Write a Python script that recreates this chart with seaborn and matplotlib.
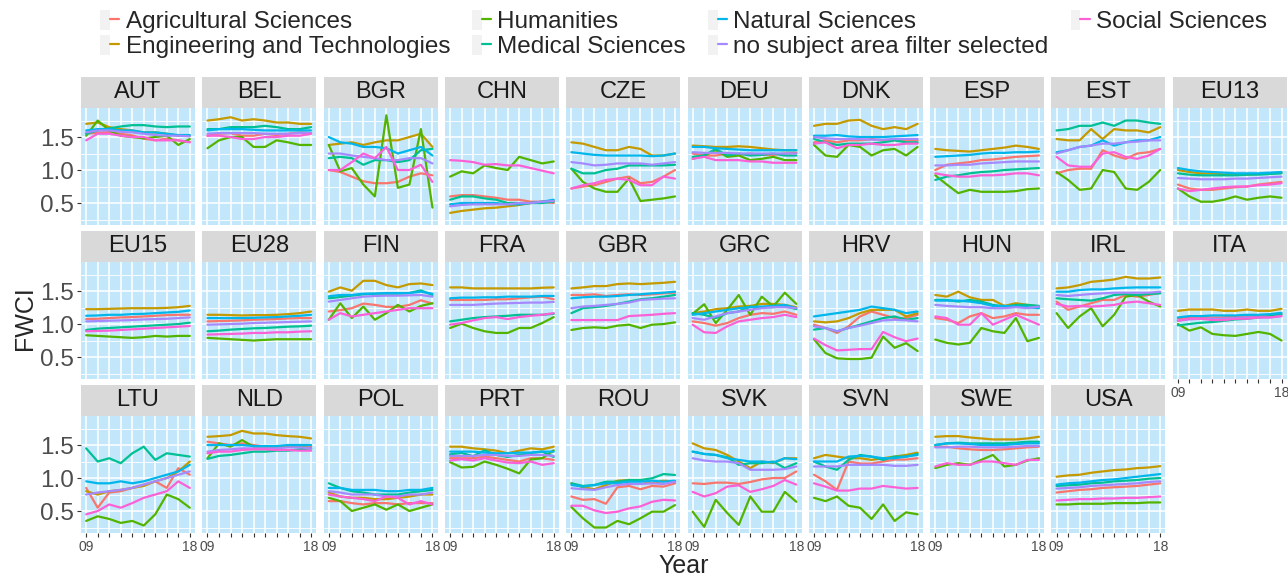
import pandas as pd
import matplotlib
matplotlib.use("Agg")
import matplotlib.pyplot as plt
from matplotlib.lines import Line2D
from matplotlib.patches import Rectangle, Patch
from matplotlib.legend_handler import HandlerTuple
import seaborn as sns

# FWCI by subject area, 2009-2018
years = list(range(2009, 2019))
subjects = ["Agricultural Sciences", "Engineering and Technologies", "Humanities",
            "Medical Sciences", "Natural Sciences", "no subject area filter selected",
            "Social Sciences"]
colors = ["#F8766D", "#C49A00", "#53B400", "#00C094", "#00B6EB", "#A58AFF", "#FB61D7"]
countries = ["AUT", "BEL", "BGR", "CHN", "CZE", "DEU", "DNK", "ESP", "EST", "EU13",
             "EU15", "EU28", "FIN", "FRA", "GBR", "GRC", "HRV", "HUN", "IRL", "ITA",
             "LTU", "NLD", "POL", "PRT", "ROU", "SVK", "SVN", "SWE", "USA"]

# each row: one subject (same order as `subjects`), values for 2009..2018
AUT = [[1.55, 1.565, 1.575, 1.55, 1.525, 1.475, 1.45, 1.475, 1.45, 1.425],
       [1.70, 1.72, 1.65, 1.62, 1.60, 1.57, 1.57, 1.55, 1.52, 1.52],
       [1.52, 1.75, 1.60, 1.52, 1.50, 1.48, 1.50, 1.52, 1.38, 1.47],
       [1.55, 1.60, 1.63, 1.66, 1.68, 1.68, 1.66, 1.65, 1.66, 1.66],
       [1.60, 1.62, 1.62, 1.60, 1.60, 1.57, 1.57, 1.55, 1.53, 1.53],
       [1.57, 1.60, 1.60, 1.58, 1.57, 1.55, 1.53, 1.52, 1.52, 1.51],
       [1.45, 1.55, 1.55, 1.52, 1.50, 1.50, 1.45, 1.45, 1.45, 1.42]]
BEL = [[1.52, 1.55, 1.56, 1.52, 1.52, 1.55, 1.53, 1.55, 1.57, 1.56],
       [1.75, 1.77, 1.80, 1.75, 1.77, 1.75, 1.72, 1.72, 1.70, 1.70],
       [1.33, 1.45, 1.50, 1.50, 1.35, 1.35, 1.45, 1.42, 1.38, 1.38],
       [1.62, 1.62, 1.65, 1.65, 1.65, 1.67, 1.65, 1.62, 1.62, 1.65],
       [1.60, 1.62, 1.62, 1.62, 1.61, 1.60, 1.60, 1.60, 1.60, 1.60],
       [1.55, 1.56, 1.56, 1.56, 1.56, 1.55, 1.55, 1.55, 1.56, 1.56],
       [1.52, 1.52, 1.50, 1.47, 1.47, 1.50, 1.50, 1.52, 1.52, 1.55]]
BGR = [[1.00, 0.97, 0.90, 0.83, 0.80, 0.80, 0.82, 0.90, 0.95, 0.92],
       [1.38, 1.40, 1.42, 1.38, 1.42, 1.45, 1.45, 1.50, 1.55, 1.35],
       [1.38, 0.98, 1.03, 0.78, 0.60, 1.83, 0.73, 0.78, 1.62, 0.43],
       [1.18, 1.20, 1.18, 1.08, 1.15, 1.15, 1.12, 1.15, 1.30, 1.32],
       [1.50, 1.42, 1.40, 1.35, 1.35, 1.33, 1.25, 1.30, 1.35, 1.22],
       [1.25, 1.25, 1.22, 1.20, 1.18, 1.15, 1.15, 1.18, 1.18, 1.10],
       [1.00, 1.00, 1.12, 1.25, 1.18, 1.35, 1.00, 1.00, 1.08, 0.82]]
CHN = [[0.60, 0.62, 0.62, 0.60, 0.58, 0.55, 0.55, 0.52, 0.52, 0.50],
       [0.35, 0.38, 0.40, 0.42, 0.43, 0.45, 0.47, 0.50, 0.52, 0.53],
       [0.90, 0.98, 0.95, 1.07, 1.03, 1.00, 1.20, 1.15, 1.10, 1.13],
       [0.55, 0.60, 0.60, 0.57, 0.55, 0.50, 0.50, 0.50, 0.50, 0.52],
       [0.48, 0.50, 0.50, 0.50, 0.50, 0.48, 0.48, 0.50, 0.52, 0.55],
       [0.45, 0.47, 0.48, 0.48, 0.48, 0.48, 0.50, 0.50, 0.52, 0.53],
       [1.15, 1.14, 1.12, 1.08, 1.09, 1.07, 1.07, 1.03, 0.99, 0.95]]
CZE = [[0.72, 0.75, 0.77, 0.82, 0.87, 0.90, 0.80, 0.82, 0.90, 1.00],
       [1.42, 1.40, 1.35, 1.30, 1.30, 1.35, 1.32, 1.22, 1.22, 1.25],
       [1.02, 0.82, 0.72, 0.67, 0.67, 0.87, 0.53, 0.55, 0.57, 0.60],
       [1.02, 0.95, 0.95, 1.00, 1.02, 1.07, 1.07, 1.07, 1.07, 1.08],
       [1.27, 1.25, 1.23, 1.22, 1.22, 1.22, 1.22, 1.21, 1.22, 1.25],
       [1.12, 1.10, 1.07, 1.08, 1.10, 1.10, 1.10, 1.08, 1.10, 1.12],
       [0.72, 0.77, 0.80, 0.85, 0.87, 0.85, 0.77, 0.77, 0.90, 0.87]]
DEU = [[1.25, 1.22, 1.22, 1.25, 1.23, 1.25, 1.23, 1.23, 1.25, 1.26],
       [1.37, 1.36, 1.35, 1.35, 1.36, 1.35, 1.33, 1.31, 1.30, 1.30],
       [1.17, 1.22, 1.30, 1.20, 1.22, 1.15, 1.17, 1.20, 1.15, 1.15],
       [1.20, 1.22, 1.32, 1.22, 1.25, 1.22, 1.23, 1.25, 1.22, 1.22],
       [1.35, 1.35, 1.33, 1.32, 1.31, 1.30, 1.30, 1.30, 1.30, 1.30],
       [1.27, 1.26, 1.26, 1.26, 1.25, 1.25, 1.25, 1.25, 1.25, 1.25],
       [1.17, 1.20, 1.15, 1.15, 1.15, 1.13, 1.13, 1.11, 1.11, 1.11]]
DNK = [[1.42, 1.45, 1.42, 1.45, 1.45, 1.47, 1.45, 1.45, 1.45, 1.45],
       [1.67, 1.70, 1.70, 1.75, 1.76, 1.67, 1.62, 1.65, 1.62, 1.70],
       [1.38, 1.22, 1.20, 1.38, 1.35, 1.22, 1.30, 1.32, 1.22, 1.35],
       [1.47, 1.42, 1.38, 1.40, 1.40, 1.40, 1.42, 1.45, 1.42, 1.42],
       [1.52, 1.52, 1.53, 1.51, 1.50, 1.50, 1.50, 1.51, 1.52, 1.53],
       [1.50, 1.48, 1.47, 1.47, 1.47, 1.46, 1.46, 1.47, 1.47, 1.47],
       [1.40, 1.42, 1.33, 1.38, 1.38, 1.40, 1.38, 1.38, 1.40, 1.40]]
ESP = [[1.00, 1.08, 1.10, 1.12, 1.15, 1.16, 1.18, 1.20, 1.21, 1.22],
       [1.32, 1.30, 1.29, 1.28, 1.30, 1.32, 1.34, 1.37, 1.35, 1.32],
       [0.92, 0.78, 0.65, 0.70, 0.67, 0.67, 0.67, 0.68, 0.71, 0.72],
       [0.85, 0.90, 0.92, 0.95, 0.97, 0.98, 1.00, 1.01, 1.02, 1.03],
       [1.20, 1.21, 1.22, 1.23, 1.25, 1.26, 1.26, 1.27, 1.27, 1.28],
       [1.07, 1.07, 1.08, 1.08, 1.10, 1.11, 1.12, 1.13, 1.13, 1.13],
       [0.95, 0.92, 0.90, 0.90, 0.92, 0.92, 0.93, 0.95, 0.95, 0.92]]
EST = [[0.95, 1.00, 1.02, 1.02, 1.30, 1.22, 1.17, 1.25, 1.27, 1.32],
       [1.47, 1.45, 1.45, 1.62, 1.47, 1.62, 1.60, 1.60, 1.57, 1.65],
       [0.97, 0.85, 0.70, 0.72, 1.00, 0.97, 0.72, 0.70, 0.82, 1.00],
       [1.60, 1.62, 1.67, 1.67, 1.72, 1.67, 1.75, 1.75, 1.72, 1.70],
       [1.27, 1.30, 1.35, 1.37, 1.45, 1.37, 1.42, 1.45, 1.45, 1.50],
       [1.25, 1.30, 1.35, 1.37, 1.40, 1.40, 1.42, 1.43, 1.45, 1.45],
       [1.20, 1.07, 1.05, 1.05, 1.25, 1.27, 1.20, 1.17, 1.22, 1.32]]
EU13 = [[0.78, 0.72, 0.70, 0.70, 0.72, 0.74, 0.75, 0.78, 0.80, 0.82],
        [1.00, 0.97, 0.95, 0.95, 0.93, 0.93, 0.93, 0.94, 0.95, 0.96],
        [0.72, 0.60, 0.52, 0.52, 0.55, 0.60, 0.55, 0.58, 0.60, 0.58],
        [0.95, 0.93, 0.92, 0.92, 0.92, 0.92, 0.93, 0.93, 0.94, 0.95],
        [1.03, 1.00, 0.98, 0.97, 0.96, 0.95, 0.95, 0.95, 0.96, 0.97],
        [0.88, 0.87, 0.86, 0.86, 0.86, 0.87, 0.87, 0.88, 0.89, 0.90],
        [0.72, 0.68, 0.70, 0.72, 0.74, 0.75, 0.75, 0.77, 0.78, 0.80]]
EU15 = [[1.075, 1.08, 1.09, 1.10, 1.105, 1.115, 1.125, 1.135, 1.14, 1.14],
        [1.225, 1.225, 1.23, 1.235, 1.24, 1.24, 1.24, 1.245, 1.255, 1.275],
        [0.83, 0.82, 0.81, 0.80, 0.79, 0.80, 0.82, 0.81, 0.82, 0.82],
        [0.91, 0.93, 0.94, 0.95, 0.96, 0.97, 0.98, 0.99, 1.00, 1.02],
        [1.125, 1.13, 1.14, 1.14, 1.15, 1.155, 1.165, 1.175, 1.185, 1.205],
        [1.04, 1.045, 1.05, 1.055, 1.06, 1.07, 1.075, 1.08, 1.09, 1.10],
        [0.89, 0.895, 0.90, 0.91, 0.92, 0.93, 0.94, 0.95, 0.96, 0.97]]
EU28 = [[1.04, 1.045, 1.05, 1.055, 1.065, 1.07, 1.075, 1.085, 1.09, 1.09],
        [1.14, 1.14, 1.135, 1.13, 1.135, 1.135, 1.14, 1.15, 1.165, 1.19],
        [0.79, 0.78, 0.77, 0.76, 0.75, 0.76, 0.77, 0.77, 0.77, 0.77],
        [0.89, 0.90, 0.915, 0.925, 0.935, 0.94, 0.95, 0.96, 0.965, 0.975],
        [1.09, 1.09, 1.09, 1.09, 1.095, 1.10, 1.105, 1.115, 1.125, 1.14],
        [0.99, 0.995, 1.00, 1.005, 1.015, 1.02, 1.025, 1.03, 1.035, 1.04],
        [0.84, 0.845, 0.85, 0.855, 0.865, 0.865, 0.875, 0.875, 0.885, 0.89]]
FIN = [[1.19, 1.21, 1.24, 1.31, 1.29, 1.26, 1.26, 1.29, 1.36, 1.31],
       [1.49, 1.555, 1.505, 1.655, 1.655, 1.59, 1.555, 1.605, 1.615, 1.59],
       [1.065, 1.315, 1.09, 1.265, 1.065, 1.165, 1.29, 1.19, 1.275, 1.315],
       [1.39, 1.41, 1.43, 1.45, 1.46, 1.46, 1.46, 1.47, 1.51, 1.44],
       [1.42, 1.44, 1.44, 1.46, 1.46, 1.47, 1.47, 1.47, 1.49, 1.46],
       [1.34, 1.365, 1.39, 1.415, 1.425, 1.43, 1.43, 1.435, 1.44, 1.415],
       [1.065, 1.165, 1.115, 1.14, 1.165, 1.19, 1.215, 1.24, 1.24, 1.24]]
FRA = [[1.365, 1.365, 1.365, 1.365, 1.375, 1.375, 1.39, 1.405, 1.415, 1.375],
       [1.555, 1.555, 1.54, 1.54, 1.54, 1.54, 1.54, 1.54, 1.55, 1.555],
       [0.94, 1.005, 0.94, 0.89, 0.865, 0.865, 0.94, 0.94, 1.015, 1.105],
       [1.04, 1.065, 1.09, 1.105, 1.115, 1.125, 1.14, 1.14, 1.14, 1.155],
       [1.39, 1.40, 1.40, 1.405, 1.405, 1.415, 1.415, 1.415, 1.425, 1.425],
       [1.29, 1.29, 1.29, 1.30, 1.31, 1.315, 1.32, 1.325, 1.325, 1.335],
       [0.99, 1.015, 1.055, 1.09, 1.105, 1.075, 1.105, 1.125, 1.14, 1.165]]
GBR = [[1.44, 1.44, 1.45, 1.425, 1.44, 1.45, 1.44, 1.45, 1.465, 1.475],
       [1.54, 1.555, 1.575, 1.575, 1.605, 1.615, 1.605, 1.615, 1.625, 1.64],
       [0.91, 0.94, 0.95, 0.94, 0.975, 0.99, 0.94, 0.99, 1.00, 1.025],
       [1.165, 1.24, 1.255, 1.275, 1.305, 1.34, 1.375, 1.39, 1.415, 1.44],
       [1.39, 1.405, 1.415, 1.415, 1.425, 1.44, 1.45, 1.465, 1.475, 1.49],
       [1.24, 1.265, 1.275, 1.29, 1.305, 1.325, 1.365, 1.375, 1.385, 1.39],
       [1.06, 1.06, 1.06, 1.06, 1.06, 1.12, 1.13, 1.14, 1.155, 1.165]]
GRC = [[1.04, 1.015, 0.975, 1.015, 1.09, 1.14, 1.165, 1.155, 1.19, 1.14],
       [1.165, 1.19, 1.225, 1.24, 1.265, 1.275, 1.305, 1.305, 1.29, 1.255],
       [1.155, 1.30, 1.015, 1.215, 1.44, 1.14, 1.415, 1.265, 1.475, 1.305],
       [1.165, 1.14, 1.09, 1.165, 1.19, 1.265, 1.255, 1.255, 1.275, 1.225],
       [1.14, 1.165, 1.19, 1.215, 1.24, 1.255, 1.265, 1.275, 1.29, 1.24],
       [1.09, 1.065, 1.115, 1.165, 1.19, 1.215, 1.24, 1.255, 1.255, 1.24],
       [0.99, 0.875, 0.865, 0.965, 1.04, 1.065, 1.09, 1.105, 1.14, 1.105]]
HRV = [[0.99, 0.94, 0.865, 0.965, 1.115, 1.19, 1.14, 1.09, 1.09, 1.14],
       [1.04, 1.025, 1.04, 1.09, 1.165, 1.215, 1.215, 1.215, 1.115, 1.165],
       [0.77, 0.56, 0.48, 0.47, 0.47, 0.49, 0.81, 0.64, 0.71, 0.59],
       [0.915, 0.94, 0.89, 0.94, 0.99, 1.04, 1.09, 1.115, 1.065, 1.09],
       [1.115, 1.14, 1.165, 1.19, 1.215, 1.265, 1.24, 1.215, 1.165, 1.19],
       [0.965, 0.94, 0.89, 0.94, 0.975, 1.015, 1.055, 1.065, 1.055, 1.04],
       [0.78, 0.68, 0.60, 0.61, 0.62, 0.62, 0.88, 0.80, 0.74, 0.78]]
HUN = [[1.09, 1.065, 1.015, 1.115, 1.165, 1.09, 1.115, 1.165, 1.14, 1.14],
       [1.44, 1.415, 1.49, 1.405, 1.365, 1.365, 1.275, 1.315, 1.29, 1.265],
       [0.765, 0.715, 0.69, 0.715, 0.94, 0.89, 0.865, 1.09, 0.74, 0.79],
       [1.365, 1.365, 1.34, 1.365, 1.34, 1.29, 1.265, 1.29, 1.29, 1.275],
       [1.355, 1.355, 1.355, 1.34, 1.315, 1.275, 1.275, 1.265, 1.255, 1.24],
       [1.29, 1.275, 1.265, 1.255, 1.255, 1.24, 1.24, 1.255, 1.24, 1.265],
       [1.115, 1.09, 0.99, 0.99, 1.165, 0.99, 1.065, 1.14, 1.065, 0.99]]
IRL = [[1.34, 1.215, 1.265, 1.315, 1.365, 1.365, 1.44, 1.415, 1.44, 1.475],
       [1.54, 1.555, 1.59, 1.64, 1.655, 1.675, 1.715, 1.69, 1.69, 1.705],
       [1.165, 0.94, 1.115, 1.24, 0.965, 1.14, 1.415, 1.44, 1.34, 1.265],
       [1.39, 1.375, 1.365, 1.355, 1.39, 1.44, 1.455, 1.44, 1.455, 1.465],
       [1.49, 1.49, 1.515, 1.525, 1.525, 1.54, 1.55, 1.555, 1.555, 1.555],
       [1.44, 1.425, 1.44, 1.455, 1.465, 1.475, 1.475, 1.475, 1.475, 1.49],
       [1.305, 1.265, 1.275, 1.265, 1.275, 1.29, 1.325, 1.34, 1.315, 1.29]]
ITA = [[1.08, 1.10, 1.10, 1.10, 1.10, 1.12, 1.12, 1.12, 1.12, 1.15],
       [1.20, 1.22, 1.22, 1.22, 1.20, 1.20, 1.22, 1.20, 1.20, 1.23],
       [1.00, 0.90, 0.95, 0.85, 0.83, 0.82, 0.85, 0.88, 0.85, 0.75],
       [0.98, 1.00, 1.02, 1.03, 1.05, 1.07, 1.08, 1.10, 1.12, 1.15],
       [1.10, 1.12, 1.12, 1.13, 1.13, 1.13, 1.14, 1.14, 1.15, 1.17],
       [1.05, 1.07, 1.08, 1.08, 1.08, 1.09, 1.10, 1.10, 1.10, 1.12],
       [1.05, 1.08, 1.08, 1.06, 1.06, 1.08, 1.08, 1.10, 1.10, 1.12]]
LTU = [[0.85, 0.55, 0.78, 0.80, 0.85, 0.90, 0.95, 0.85, 1.15, 1.05],
       [0.80, 0.75, 0.80, 0.82, 0.85, 0.88, 0.95, 1.00, 1.10, 1.25],
       [0.35, 0.42, 0.38, 0.32, 0.35, 0.28, 0.45, 0.75, 0.68, 0.55],
       [1.45, 1.25, 1.30, 1.225, 1.375, 1.475, 1.275, 1.375, 1.35, 1.325],
       [0.95, 0.92, 0.92, 0.95, 0.92, 0.95, 1.00, 1.05, 1.10, 1.20],
       [0.75, 0.78, 0.80, 0.82, 0.85, 0.90, 0.95, 1.00, 1.05, 1.10],
       [0.45, 0.50, 0.60, 0.55, 0.62, 0.70, 0.75, 0.80, 0.95, 0.85]]
NLD = [[1.55, 1.525, 1.50, 1.525, 1.50, 1.475, 1.475, 1.485, 1.50, 1.485],
       [1.625, 1.635, 1.65, 1.715, 1.675, 1.675, 1.65, 1.635, 1.625, 1.60],
       [1.30, 1.525, 1.475, 1.575, 1.475, 1.45, 1.475, 1.475, 1.475, 1.45],
       [1.29, 1.335, 1.35, 1.375, 1.40, 1.40, 1.415, 1.415, 1.435, 1.45],
       [1.50, 1.50, 1.50, 1.50, 1.485, 1.485, 1.485, 1.50, 1.50, 1.50],
       [1.40, 1.425, 1.435, 1.45, 1.45, 1.45, 1.45, 1.465, 1.465, 1.45],
       [1.375, 1.40, 1.40, 1.425, 1.435, 1.435, 1.425, 1.425, 1.415, 1.415]]
POL = [[0.65, 0.65, 0.62, 0.60, 0.62, 0.62, 0.60, 0.62, 0.62, 0.62],
       [0.78, 0.72, 0.70, 0.70, 0.68, 0.68, 0.70, 0.72, 0.75, 0.75],
       [0.70, 0.65, 0.50, 0.55, 0.60, 0.52, 0.60, 0.50, 0.55, 0.60],
       [0.92, 0.85, 0.80, 0.78, 0.75, 0.75, 0.75, 0.78, 0.80, 0.82],
       [0.85, 0.85, 0.82, 0.82, 0.82, 0.80, 0.80, 0.82, 0.82, 0.85],
       [0.80, 0.78, 0.75, 0.75, 0.75, 0.72, 0.72, 0.75, 0.75, 0.78],
       [0.75, 0.72, 0.70, 0.68, 0.65, 0.72, 0.70, 0.60, 0.65, 0.60]]
PRT = [[1.30, 1.30, 1.30, 1.325, 1.30, 1.275, 1.25, 1.30, 1.30, 1.275],
       [1.475, 1.475, 1.45, 1.435, 1.415, 1.375, 1.415, 1.45, 1.435, 1.475],
       [1.24, 1.16, 1.17, 1.25, 1.20, 1.14, 1.07, 1.28, 1.30, 1.42],
       [1.36, 1.38, 1.33, 1.42, 1.35, 1.32, 1.35, 1.38, 1.40, 1.32],
       [1.40, 1.40, 1.40, 1.385, 1.375, 1.375, 1.385, 1.385, 1.40, 1.40],
       [1.335, 1.335, 1.335, 1.35, 1.35, 1.335, 1.335, 1.35, 1.35, 1.335],
       [1.265, 1.285, 1.265, 1.30, 1.265, 1.235, 1.225, 1.25, 1.20, 1.225]]
ROU = [[0.72, 0.67, 0.68, 0.61, 0.86, 0.88, 0.83, 0.88, 0.87, 0.92],
       [0.92, 0.86, 0.83, 0.894, 0.96, 0.97, 0.96, 0.92, 0.96, 0.944],
       [0.56, 0.39, 0.25, 0.25, 0.35, 0.30, 0.39, 0.49, 0.49, 0.59],
       [0.92, 0.88, 0.894, 0.944, 0.944, 0.97, 0.97, 0.996, 1.06, 1.046],
       [0.894, 0.87, 0.894, 0.92, 0.92, 0.944, 0.944, 0.96, 0.944, 0.96],
       [0.845, 0.83, 0.82, 0.86, 0.894, 0.91, 0.91, 0.92, 0.91, 0.944],
       [0.58, 0.58, 0.51, 0.47, 0.49, 0.54, 0.57, 0.64, 0.67, 0.66]]
SVK = [[0.92, 0.91, 0.93, 0.93, 0.91, 0.94, 0.98, 1.00, 1.00, 1.10],
       [1.525, 1.45, 1.425, 1.35, 1.25, 1.15, 1.25, 1.225, 1.30, 1.30],
       [0.49, 0.26, 0.67, 0.47, 0.29, 0.72, 0.49, 0.49, 0.79, 0.64],
       [1.40, 1.365, 1.35, 1.315, 1.20, 1.225, 1.225, 1.25, 1.15, 1.225],
       [1.40, 1.365, 1.35, 1.30, 1.275, 1.25, 1.25, 1.235, 1.30, 1.285],
       [1.30, 1.265, 1.25, 1.25, 1.225, 1.125, 1.125, 1.125, 1.135, 1.175],
       [0.79, 0.72, 0.77, 0.87, 0.89, 0.79, 0.83, 0.88, 0.97, 0.90]]
SVN = [[1.05, 0.95, 0.82, 1.25, 1.22, 1.22, 1.25, 1.28, 1.28, 1.30],
       [1.30, 1.35, 1.325, 1.30, 1.30, 1.275, 1.30, 1.325, 1.35, 1.385],
       [0.70, 0.65, 0.72, 0.58, 0.55, 0.38, 0.60, 0.35, 0.48, 0.45],
       [1.25, 1.175, 1.125, 1.275, 1.35, 1.325, 1.275, 1.325, 1.325, 1.365],
       [1.25, 1.25, 1.25, 1.325, 1.335, 1.325, 1.30, 1.30, 1.325, 1.35],
       [1.175, 1.175, 1.175, 1.20, 1.20, 1.20, 1.20, 1.185, 1.185, 1.20],
       [0.92, 0.87, 0.81, 0.81, 0.84, 0.84, 0.88, 0.86, 0.84, 0.85]]
SWE = [[1.475, 1.475, 1.45, 1.435, 1.425, 1.425, 1.435, 1.45, 1.465, 1.475],
       [1.625, 1.635, 1.635, 1.615, 1.60, 1.585, 1.585, 1.585, 1.60, 1.625],
       [1.15, 1.20, 1.225, 1.20, 1.275, 1.35, 1.175, 1.20, 1.265, 1.30],
       [1.50, 1.525, 1.535, 1.525, 1.525, 1.525, 1.525, 1.535, 1.55, 1.55],
       [1.50, 1.525, 1.525, 1.515, 1.50, 1.50, 1.50, 1.515, 1.525, 1.525],
       [1.465, 1.465, 1.475, 1.475, 1.465, 1.465, 1.465, 1.475, 1.485, 1.485],
       [1.175, 1.225, 1.20, 1.20, 1.25, 1.25, 1.225, 1.20, 1.275, 1.275]]
USA = [[0.78, 0.80, 0.82, 0.83, 0.85, 0.86, 0.87, 0.88, 0.90, 0.92],
       [1.02, 1.04, 1.05, 1.08, 1.10, 1.12, 1.13, 1.15, 1.16, 1.18],
       [0.60, 0.60, 0.61, 0.61, 0.61, 0.62, 0.62, 0.62, 0.63, 0.63],
       [0.88, 0.89, 0.90, 0.92, 0.93, 0.95, 0.96, 0.97, 0.99, 1.00],
       [0.90, 0.92, 0.93, 0.95, 0.97, 0.98, 1.00, 1.02, 1.04, 1.06],
       [0.84, 0.85, 0.86, 0.88, 0.89, 0.90, 0.91, 0.92, 0.94, 0.95],
       [0.66, 0.67, 0.68, 0.68, 0.69, 0.69, 0.70, 0.70, 0.71, 0.72]]

tables = [AUT, BEL, BGR, CHN, CZE, DEU, DNK, ESP, EST, EU13,
          EU15, EU28, FIN, FRA, GBR, GRC, HRV, HUN, IRL, ITA,
          LTU, NLD, POL, PRT, ROU, SVK, SVN, SWE, USA]

rows = []
for cty, tab in zip(countries, tables):
    for subj, vals in zip(subjects, tab):
        for yr, v in zip(years, vals):
            rows.append((cty, subj, yr, v))
df = pd.DataFrame(rows, columns=["Country", "Subject", "Year", "FWCI"])

sns.set_theme(style="white")
plt.rcParams["font.family"] = ["Liberation Sans", "DejaVu Sans"]

W, H = 1288, 576
fig = plt.figure(figsize=(W / 100, H / 100), dpi=100)

# panel geometry (pixels)
x0, pitch_x, pw = 81, 121.3, 114
y0, pitch_y, sh, ph = 77, 154, 31, 117
panel_bg = "#C2E7FA"
pal = dict(zip(subjects, colors))
ncol = 10
n = len(countries)

for i, cty in enumerate(countries):
    r, c = divmod(i, ncol)
    left = x0 + c * pitch_x
    top = y0 + r * pitch_y + sh
    ax = fig.add_axes([left / W, 1 - (top + ph) / H, pw / W, ph / H])
    ax.set_facecolor(panel_bg)
    sns.lineplot(data=df[df.Country == cty], x="Year", y="FWCI", hue="Subject",
                 hue_order=subjects, palette=pal, linewidth=1.6, legend=False, ax=ax)
    ax.set_xlim(2009 - 0.45, 2018 + 0.45)
    ax.set_ylim(0.167, 1.94)
    ax.set_xticks(years)
    ax.set_yticks([0.5, 1.0, 1.5])
    ax.set_yticks([0.25, 0.75, 1.25, 1.75], minor=True)
    ax.grid(True, which="major", color="white", linewidth=1.1)
    ax.grid(True, which="minor", axis="y", color="white", linewidth=0.6)
    ax.set_axisbelow(True)
    for s in ax.spines.values():
        s.set_visible(False)
    ax.set_xlabel("")
    ax.set_ylabel("")

    bottom = (r == 2) or (i + ncol >= n)
    if bottom:
        ax.set_xticklabels(["09"] + [""] * 8 + ["18"])
        ax.tick_params(axis="x", bottom=True, length=3, width=0.8, color="#333333",
                       labelsize=10, labelcolor="#4D4D4D", pad=2)
    else:
        ax.tick_params(axis="x", bottom=False, labelbottom=False)
    if c == 0:
        ax.set_yticklabels(["0.5", "1.0", "1.5"])
        ax.tick_params(axis="y", which="major", left=True, length=3, width=0.8,
                       color="#333333", labelsize=17.5, labelcolor="#4D4D4D", pad=2)
        ax.tick_params(axis="y", which="minor", left=False)
    else:
        ax.tick_params(axis="y", which="both", left=False, labelleft=False)

    # facet strip
    ax.add_patch(Rectangle((0, 1), 1, sh / ph, transform=ax.transAxes,
                           facecolor="#D9D9D9", edgecolor="none", clip_on=False))
    ax.text(0.5, 1 + sh / ph / 2, cty, transform=ax.transAxes, ha="center",
            va="center", fontsize=17, color="#1A1A1A")

fig.text(25 / W, 1 - 318 / H, "FWCI", rotation=90, ha="center", va="center",
         fontsize=18)
fig.text((x0 + 9 * pitch_x + pw + x0) / 2 / W, 1 - 566 / H, "Year",
         ha="center", va="center", fontsize=18)

handles = [(Patch(facecolor="#F2F2F2", edgecolor="none"),
            Line2D([], [], color=col, linewidth=1.6)) for col in colors]
fig.legend(handles, subjects, ncol=4, loc="upper left",
           bbox_to_anchor=(100 / W, 1 - 10 / H), frameon=False, fontsize=17.5,
           handler_map={tuple: HandlerTuple(ndivide=None)},
           handlelength=0.8, handleheight=0.9, handletextpad=0.25,
           columnspacing=0.9, labelspacing=0.05, borderpad=0, borderaxespad=0)

fig.savefig("out.png", dpi=100)
